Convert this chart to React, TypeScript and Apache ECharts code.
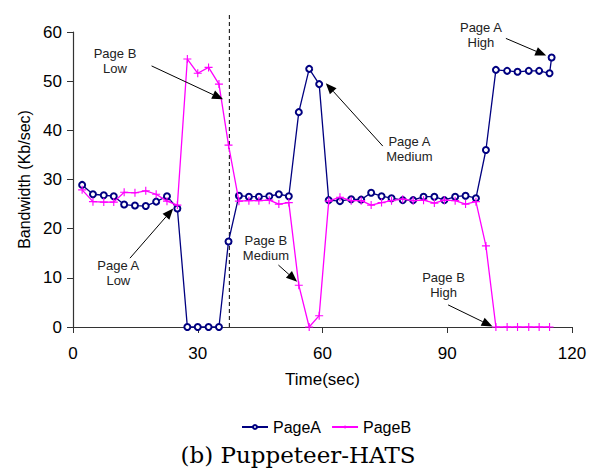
import React, { useEffect, useRef } from "react";
import * as echarts from "echarts";

const timeSec = [2.2, 4.8, 7.4, 9.8, 12.3, 14.9, 17.5, 20.0, 22.6, 25.1, 27.5, 30.0, 32.6, 35.1, 37.4, 39.9, 42.3, 44.7, 47.2, 49.5, 51.9, 54.3, 56.8, 59.2, 61.5, 64.2, 66.9, 69.3, 71.7, 74.2, 76.6, 79.3, 81.8, 84.3, 86.9, 89.3, 91.9, 94.4, 96.9, 99.3, 101.7, 104.4, 106.9, 109.6, 112.1, 114.6, 115.1];
const pageA = [28.9, 27.0, 26.8, 26.6, 24.9, 24.7, 24.6, 25.5, 26.6, 24.1, 0, 0, 0, 0, 17.4, 26.7, 26.5, 26.5, 26.6, 27.0, 26.6, 43.7, 52.5, 49.4, 25.8, 25.6, 26.0, 25.9, 27.3, 26.6, 26.2, 25.8, 25.8, 26.5, 26.5, 25.8, 26.5, 26.7, 26.2, 36.0, 52.3, 52.1, 51.9, 52.1, 52.1, 51.6, 54.8];
const pageB = [27.9, 25.5, 25.4, 25.4, 27.4, 27.3, 27.7, 27.0, 25.6, 24.8, 54.5, 51.6, 52.8, 49.4, 37.0, 25.6, 25.7, 25.7, 25.8, 25.0, 25.3, 8.5, 0, 2.3, 25.6, 26.4, 25.7, 25.7, 24.8, 25.3, 25.7, 26.0, 25.7, 25.8, 25.2, 25.8, 25.7, 25.0, 25.5, 16.5, 0, 0, 0, 0, 0, 0];
const xTicks = [0, 30, 60, 90, 120];
const yTicks = [0, 10, 20, 30, 40, 50, 60];
const seriesNames = ["PageA", "PageB"];
const phaseBoundary = 37.6;

// annotations: label lines, label anchor (data coords), arrow start, arrow tip (data coords)
const annoLabels = [["Page B", "Low"], ["Page A", "Low"], ["Page B", "Medium"], ["Page A", "Medium"], ["Page A", "High"], ["Page B", "High"]];
const annoTextAt = [[10.1, 54.2], [10.9, 10.9], [46.4, 16.1], [80.9, 36.3], [98.1, 59.4], [89.1, 8.6]];
const annoFrom = [[18.9, 53.1], [13.7, 14.0], [49.4, 12.6], [74.5, 36.8], [104.1, 58.7], [90.2, 4.5]];
const annoTo = [[36.1, 46.3], [24.1, 24.1], [53.9, 9.2], [60.8, 49.6], [113.8, 55.2], [100.9, 0.1]];

const PLUS = "path://M8.6,0H11.4V8.6H20V11.4H11.4V20H8.6V11.4H0V8.6H8.6Z";

export default function App() {
  const ref = useRef<HTMLDivElement>(null);
  useEffect(() => {
    if (!ref.current) return;
    const chart = echarts.init(ref.current, null, { renderer: "svg" });
    const font = "Arial, 'Liberation Sans', sans-serif";
    chart.setOption({
      animation: false,
      backgroundColor: "#ffffff",
      grid: { left: 73, right: 25, top: 32, bottom: 144 },
      legend: {
        data: seriesNames,
        left: 236,
        top: 414,
        itemWidth: 26,
        itemHeight: 5,
        itemGap: 10,
        textStyle: { fontFamily: font, fontSize: 16, color: "#000" },
      },
      xAxis: {
        type: "value",
        min: 0,
        max: 120,
        interval: 30,
        name: "Time(sec)",
        nameLocation: "middle",
        nameGap: 44,
        nameTextStyle: { fontFamily: font, fontSize: 17, color: "#000" },
        axisLine: { lineStyle: { color: "#333", width: 1.2 } },
        axisTick: { length: 6, lineStyle: { color: "#333" } },
        axisLabel: { fontFamily: font, fontSize: 17, color: "#000", margin: 18 },
        splitLine: { show: false },
      },
      yAxis: {
        type: "value",
        min: 0,
        max: 60,
        interval: 10,
        name: "Bandwidth (Kb/sec)",
        nameLocation: "middle",
        nameGap: 40,
        nameTextStyle: { fontFamily: font, fontSize: 16, color: "#000" },
        axisLine: { show: true, lineStyle: { color: "#333", width: 1.2 } },
        axisTick: { show: true, length: 6, lineStyle: { color: "#333" } },
        axisLabel: { fontFamily: font, fontSize: 17, color: "#000", margin: 11 },
        splitLine: { show: false },
      },
      series: [
        {
          name: seriesNames[0],
          type: "line",
          data: pageA.map((v, i) => [timeSec[i], v]),
          color: "#000080",
          symbol: "emptyCircle",
          symbolSize: 6,
          showAllSymbol: true,
          lineStyle: { width: 1.3, color: "#000080" },
          itemStyle: { borderWidth: 1.2, borderColor: "#000080" },
          clip: false,
          z: 2,
        },
        {
          name: seriesNames[1],
          type: "line",
          data: pageB.map((v, i) => [timeSec[i], v]),
          color: "#ff00ff",
          symbol: PLUS,
          symbolSize: 8,
          showAllSymbol: true,
          lineStyle: { width: 1.3, color: "#ff00ff" },
          itemStyle: { color: "#ff00ff" },
          clip: false,
          z: 3,
        },
      ],
    });

    const px = (p: number[]) => chart.convertToPixel({ gridIndex: 0 }, p) as number[];
    const graphics: any[] = [];
    const b0 = px([phaseBoundary, 0]);
    const b1 = px([phaseBoundary, 63.5]);
    graphics.push({
      type: "line",
      shape: { x1: b0[0], y1: b0[1], x2: b1[0], y2: b1[1] },
      style: { stroke: "#000", lineWidth: 1, lineDash: [4, 3] },
      z: 1,
    });
    annoLabels.forEach((lines, i) => {
      const t = px(annoTextAt[i]);
      graphics.push({
        type: "text",
        x: t[0],
        y: t[1],
        style: {
          text: lines.join("\n"),
          fontFamily: font,
          fontSize: 13,
          lineHeight: 15,
          fill: "#222",
          align: "center",
          verticalAlign: "middle",
        },
        z: 10,
      });
      const a = px(annoFrom[i]);
      const b = px(annoTo[i]);
      const dx = b[0] - a[0];
      const dy = b[1] - a[1];
      const len = Math.sqrt(dx * dx + dy * dy);
      const ux = dx / len;
      const uy = dy / len;
      const hl = 11;
      const hw = 4.5;
      const bx = b[0] - ux * hl;
      const by = b[1] - uy * hl;
      graphics.push({
        type: "line",
        shape: { x1: a[0], y1: a[1], x2: bx, y2: by },
        style: { stroke: "#000", lineWidth: 1 },
        z: 10,
      });
      graphics.push({
        type: "polygon",
        shape: {
          points: [
            [b[0], b[1]],
            [bx - uy * hw, by + ux * hw],
            [bx + uy * hw, by - ux * hw],
          ],
        },
        style: { fill: "#000" },
        z: 10,
      });
    });
    graphics.push({
      type: "text",
      x: 298,
      y: 455,
      style: {
        text: "(b) Puppeteer-HATS",
        fontFamily: "DejaVu Serif",
        fontSize: 23,
        fill: "#000",
        align: "center",
        verticalAlign: "middle",
      },
    });
    chart.setOption({ graphic: graphics });
    return () => chart.dispose();
  }, []);
  return <div ref={ref} style={{ width: 597, height: 471, position: "absolute", left: 0, top: 0 }} />;
}
